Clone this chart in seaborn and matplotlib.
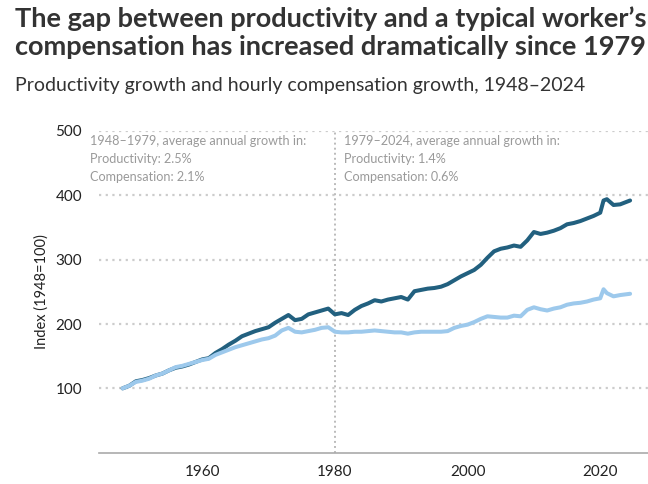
import matplotlib
matplotlib.use("Agg")
import matplotlib.pyplot as plt
import seaborn as sns
import pandas as pd

# ---- data ----
years = [1948, 1949, 1950, 1951, 1952, 1953, 1954, 1955, 1956, 1957, 1958, 1959,
         1960, 1961, 1962, 1963, 1964, 1965, 1966, 1967, 1968, 1969, 1970, 1971,
         1972, 1973, 1974, 1975, 1976, 1977, 1978, 1979, 1980, 1981, 1982, 1983,
         1984, 1985, 1986, 1987, 1988, 1989, 1990, 1991, 1992, 1993, 1994, 1995,
         1996, 1997, 1998, 1999, 2000, 2001, 2002, 2003, 2004, 2005, 2006, 2007,
         2008, 2009, 2010, 2011, 2012, 2013, 2014, 2015, 2016, 2017, 2018, 2019,
         2020, 2020.5, 2021, 2022, 2023, 2024.5]
productivity = [100, 104, 111, 113, 116, 120, 123, 128, 132, 134, 137, 141,
                145, 147, 155, 161, 168, 174, 181, 185, 189, 192, 195, 202,
                208, 214, 206, 208, 215, 218, 221, 224, 215, 217, 214, 222,
                228, 232, 237, 235, 238, 240, 242, 238, 251, 253, 255, 256,
                258, 262, 268, 274, 279, 284, 292, 303, 313, 317, 319, 322,
                320, 330, 343, 340, 342, 345, 349, 355, 357, 360, 364, 368,
                373, 392, 394, 385, 386, 392]
compensation = [100, 104, 110, 112, 115, 120, 123, 128, 133, 135, 138, 141,
                144, 146, 152, 156, 160, 164, 167, 170, 173, 176, 178, 182,
                190, 194, 188, 187, 189, 191, 194, 195, 188, 187, 187, 188,
                188, 189, 190, 189, 188, 187, 187, 185, 187, 188, 188, 188,
                188, 189, 194, 197, 199, 203, 208, 212, 211, 210, 210, 213,
                212, 222, 226, 223, 221, 224, 226, 230, 232, 233, 235, 238,
                240, 254, 248, 243, 245, 247]
y_ticks = [100, 200, 300, 400, 500]
x_ticks = [1960, 1980, 2000, 2020]
divider_year = 1980

title = "The gap between productivity and a typical worker\u2019s\ncompensation has increased dramatically since 1979"
subtitle = "Productivity growth and hourly compensation growth, 1948\u20132024"
note_left = ["1948\u20131979, average annual growth in:", "Productivity: 2.5%", "Compensation: 2.1%"]
note_right = ["1979\u20132024, average annual growth in:", "Productivity: 1.4%", "Compensation: 0.6%"]

df = pd.DataFrame({"year": years, "Productivity": productivity, "Compensation": compensation})
long = df.melt(id_vars="year", var_name="series", value_name="index")

sns.set_theme(style="white")
plt.rcParams["font.family"] = ["Lato", "DejaVu Sans"]

W, H = 648, 484
top_px, bot_px = 131, 452.7
fig = plt.figure(figsize=(W / 100, H / 100), dpi=100)
ax = fig.add_axes([98.7 / W, 1 - bot_px / H, (648 - 98.7) / W, (bot_px - top_px) / H])

dark = "#22607F"
light = "#9DC9EC"
sns.lineplot(data=long, x="year", y="index", hue="series",
             hue_order=["Compensation", "Productivity"],
             palette={"Productivity": dark, "Compensation": light},
             linewidth=2.9, legend=False, ax=ax, zorder=3)
ax.lines[0].set_zorder(4)

ax.set_xlim(1944.4, 2027.2)
ax.set_ylim(0, 500)

for v in y_ticks:
    ax.axhline(v, color="#cccccc", lw=1.6, ls=(0, (1, 2)), zorder=1)
ax.axvline(divider_year, ymin=0, ymax=1, color="#bbbbbb", lw=1.4, ls=(0, (1, 1.6)), zorder=1)

ax.set_yticks(y_ticks)
ax.set_yticklabels([str(v) for v in y_ticks], fontsize=11, color="#222222")
ax.set_xticks(x_ticks)
ax.set_xticklabels([str(v) for v in x_ticks], fontsize=11, color="#222222")
ax.tick_params(axis="y", length=0, pad=12)
ax.tick_params(axis="x", length=5, width=1, color="#aaaaaa", pad=4, direction="out")
ax.set_xlabel("")
ax.set_ylabel("Index (1948=100)", fontsize=10.5, color="#222222", labelpad=5)
for s in ["top", "right", "left"]:
    ax.spines[s].set_visible(False)
ax.spines["bottom"].set_color("#aaaaaa")
ax.spines["bottom"].set_linewidth(1.2)

# annotations
for i, (tl, tr) in enumerate(zip(note_left, note_right)):
    yy = 1 - (141 + i * 18) / H
    fig.text(90 / W, yy, tl, fontsize=9.1, color="#9a9a9a", va="center", ha="left")
    fig.text(344 / W, yy, tr, fontsize=9.1, color="#9a9a9a", va="center", ha="left")

fig.text(15 / W, 1 - 33 / H, title, fontsize=19.5, fontweight="bold", color="#333333",
         va="center", ha="left", linespacing=1.2)
fig.text(15 / W, 1 - 85 / H, subtitle, fontsize=14, color="#333333", va="center", ha="left")

fig.savefig("out.png", dpi=100)
